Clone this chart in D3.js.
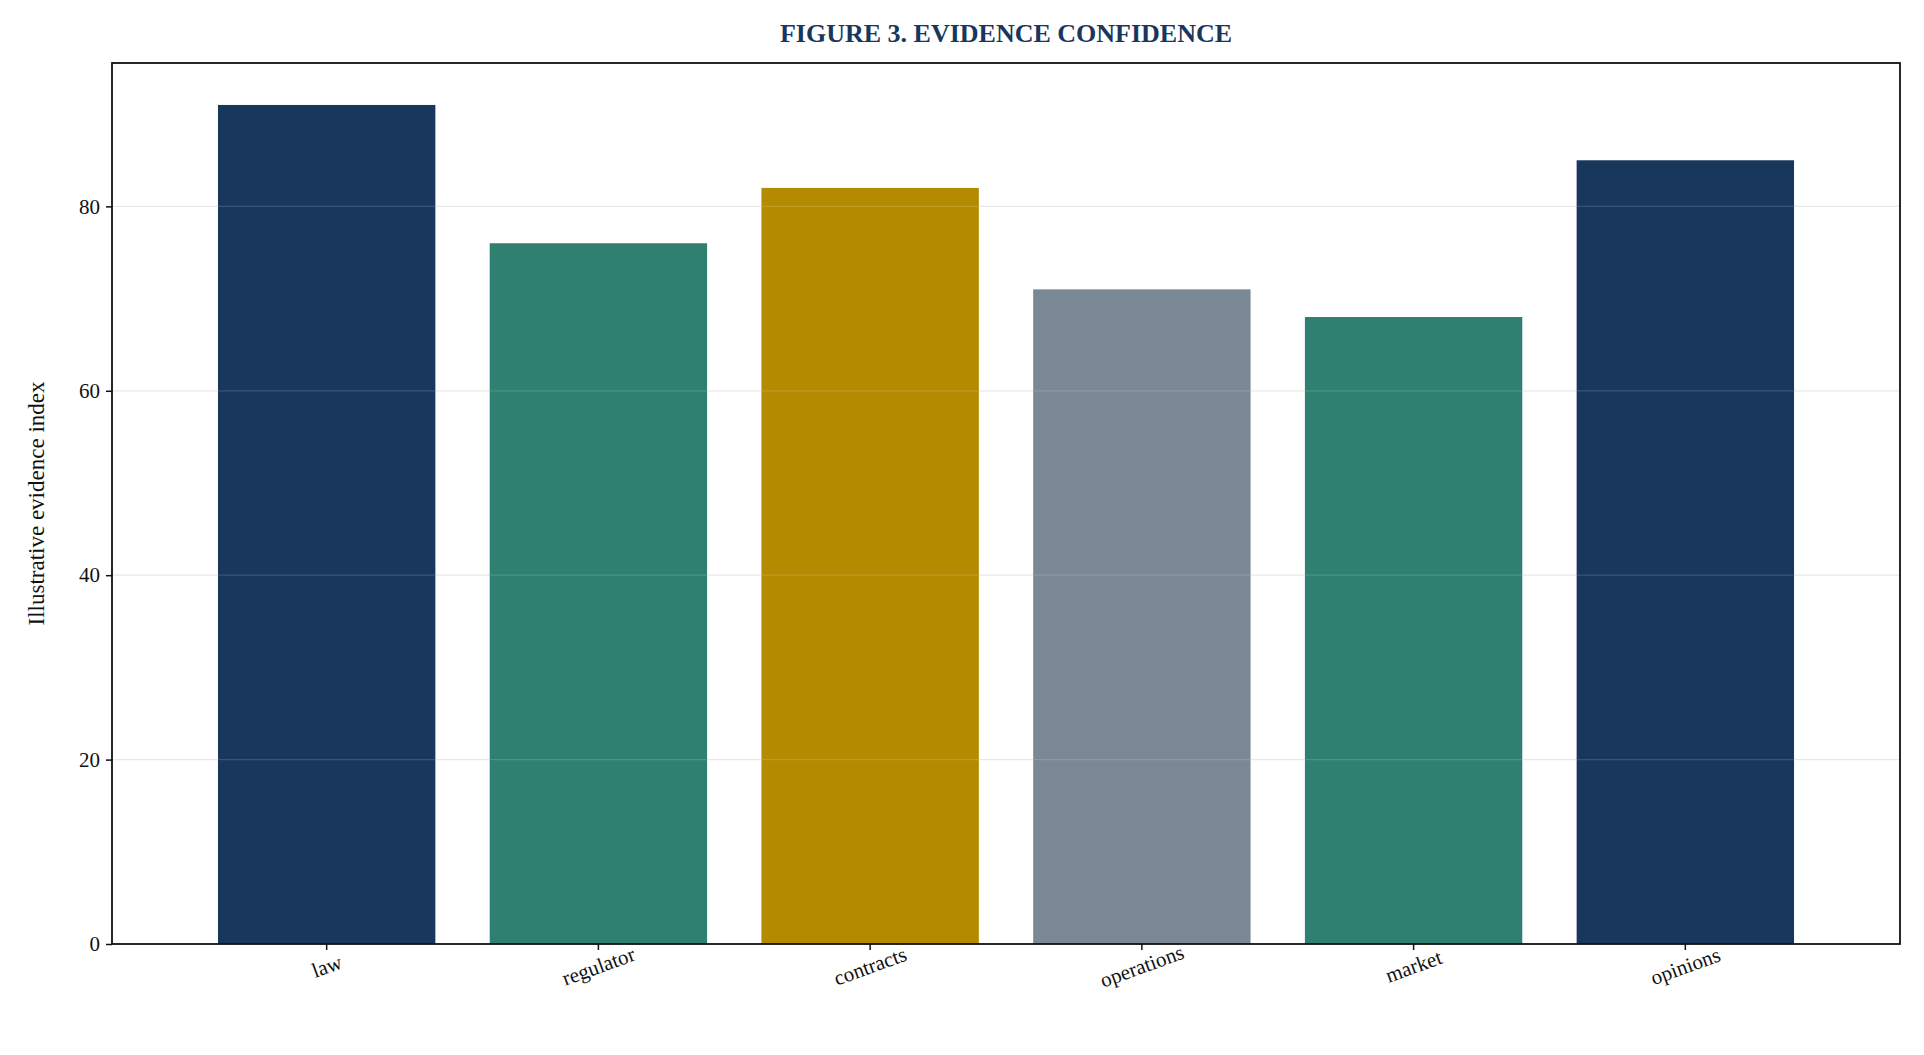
<!DOCTYPE html><html><head><meta charset="utf-8"><script src="https://cdn.jsdelivr.net/npm/d3@7"></script>
<style>body{margin:0;background:#fff}svg{font-family:"Liberation Serif","DejaVu Serif",serif}</style></head><body>
<svg id="c" width="1924" height="1055"></svg>
<script>
const categories=["law","regulator","contracts","operations","market","opinions"];
const values=[91,76,82,71,68,85];
const colors=["#19365c","#2f8070","#b38a00","#7a8795","#2f8070","#19365c"];
const yTicks=[0,20,40,60,80];
const svg=d3.select("#c");
const L=112,R=1900,T=63,B=944;
const x=d3.scaleBand().domain(categories).range([L,R]).paddingInner(0.2).paddingOuter(0.39);
const y=d3.scaleLinear().domain([0,95.55]).range([B,T]);
svg.append("g").selectAll("line").data(yTicks.slice(1)).join("line")
 .attr("x1",L).attr("x2",R).attr("y1",d=>y(d)).attr("y2",d=>y(d)).attr("stroke","#e6e6e6").attr("stroke-width",1.2);
svg.append("g").selectAll("rect").data(values).join("rect")
 .attr("x",(d,i)=>x(categories[i])).attr("width",x.bandwidth()).attr("y",d=>y(d)).attr("height",d=>B-y(d))
 .attr("fill",(d,i)=>colors[i]);
svg.append("g").selectAll("line").data(yTicks.slice(1)).join("line")
 .attr("x1",L).attr("x2",R).attr("y1",d=>y(d)).attr("y2",d=>y(d)).attr("stroke","#fff").attr("stroke-opacity",0.15).attr("stroke-width",1.2);
const ya=svg.append("g").attr("transform",`translate(${L},0)`).call(d3.axisLeft(y).tickValues(yTicks).tickSize(6).tickPadding(6));
ya.selectAll("text").attr("font-size",21).attr("font-family","Liberation Serif").attr("fill","#111");
const xa=svg.append("g").attr("transform",`translate(0,${B})`).call(d3.axisBottom(x).tickSize(6));
xa.selectAll("text").attr("font-size",21).attr("font-family","Liberation Serif").attr("fill","#111")
 .attr("text-anchor","middle").attr("transform","translate(0,22) rotate(-20)").attr("dy","0.35em").attr("y",0);
svg.selectAll(".domain").remove();
svg.selectAll(".tick line").attr("stroke","#111").attr("stroke-width",1.5);
svg.append("rect").attr("x",L).attr("y",T).attr("width",R-L).attr("height",B-T).attr("fill","none").attr("stroke","#111").attr("stroke-width",1.8);
svg.append("text").attr("x",(L+R)/2).attr("y",42).attr("text-anchor","middle").attr("font-size",26).attr("font-weight","bold").attr("fill","#19365c").text("FIGURE 3. EVIDENCE CONFIDENCE");
svg.append("text").attr("transform",`translate(44,${(T+B)/2}) rotate(-90)`).attr("text-anchor","middle").attr("font-size",23).attr("fill","#111").text("Illustrative evidence index");
</script></body></html>
